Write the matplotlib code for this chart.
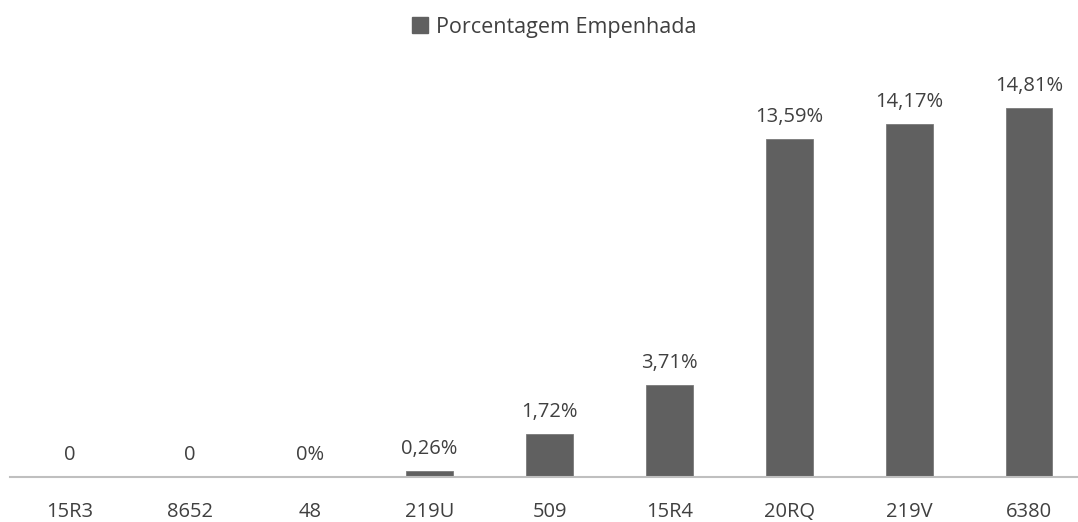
import matplotlib.pyplot as plt
import matplotlib.patches as mpatches

# dados
categorias = ['15R3', '8652', '48', '219U', '509', '15R4', '20RQ', '219V', '6380']
porcentagem = [0, 0, 0, 0.26, 1.72, 3.71, 13.59, 14.17, 14.81]
rotulos = ['0', '0', '0%', '0,26%', '1,72%', '3,71%', '13,59%', '14,17%', '14,81%']

cor_barra = '#606060'
cor_texto = '#404040'

plt.rcParams['font.family'] = ['Open Sans', 'DejaVu Sans']

fig = plt.figure(figsize=(10.78, 5.22), dpi=100)
ax = fig.add_axes([10 / 1078, 45 / 522, 1079 / 1078, 400 / 522])

x = range(len(categorias))
ax.bar(x, porcentagem, width=0.39, color=cor_barra, edgecolor='#7a7a7a', linewidth=0.6)

for xi, v, r in zip(x, porcentagem, rotulos):
    ax.annotate(r, (xi, v), xytext=(0, 8.5), textcoords='offset points',
                ha='center', va='bottom', fontsize=14.5, color=cor_texto)

ax.set_xlim(-0.5, 8.5)
ax.set_ylim(0, 400 / 24.9)
ax.set_xticks(list(x))
ax.set_xticklabels(categorias, fontsize=14.5, color=cor_texto)
ax.tick_params(axis='x', length=0, pad=18)
ax.set_yticks([])
for lado in ['top', 'right', 'left']:
    ax.spines[lado].set_visible(False)
ax.spines['bottom'].set_color('#bfbfbf')
ax.spines['bottom'].set_linewidth(1.5)

leg_patch = mpatches.Patch(color=cor_barra, label='Porcentagem Empenhada')
fig.legend(handles=[leg_patch], loc='center', bbox_to_anchor=(554 / 1078, 1 - 27 / 522),
           frameon=False, fontsize=15.5, handlelength=0.75, handleheight=0.75,
           handletextpad=0.35, labelcolor=cor_texto)

fig.savefig('out.png', dpi=100)
